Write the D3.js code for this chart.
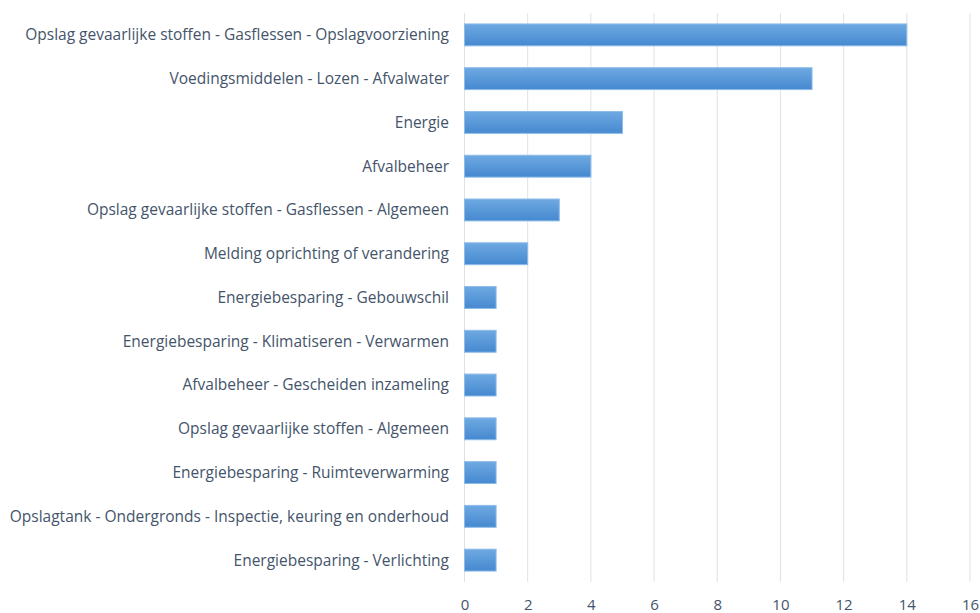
<!DOCTYPE html>
<html>
<head>
<meta charset="utf-8">
<style>
  body { margin: 0; background: #fff; }
  text { font-family: "Open Sans", "Liberation Sans", sans-serif; fill: #44546a; }
</style>
</head>
<body>
<svg width="980" height="613"></svg>
<script src="https://d3js.org/d3.v7.min.js"></script>
<script>
var categories = [
  "Opslag gevaarlijke stoffen - Gasflessen - Opslagvoorziening",
  "Voedingsmiddelen - Lozen - Afvalwater",
  "Energie",
  "Afvalbeheer",
  "Opslag gevaarlijke stoffen - Gasflessen - Algemeen",
  "Melding oprichting of verandering",
  "Energiebesparing - Gebouwschil",
  "Energiebesparing - Klimatiseren - Verwarmen",
  "Afvalbeheer - Gescheiden inzameling",
  "Opslag gevaarlijke stoffen - Algemeen",
  "Energiebesparing - Ruimteverwarming",
  "Opslagtank - Ondergronds - Inspectie, keuring en onderhoud",
  "Energiebesparing - Verlichting"
];
var values = [14, 11, 5, 4, 3, 2, 1, 1, 1, 1, 1, 1, 1];
var tickValues = [0, 2, 4, 6, 8, 10, 12, 14, 16];

var svg = d3.select("svg");

var x = d3.scaleLinear().domain([0, 16]).range([464.5, 970]);
var y = d3.scaleBand().domain(categories).range([13, 582]).paddingInner(0.5).paddingOuter(0.25);

var defs = svg.append("defs");
var grad = defs.append("linearGradient")
    .attr("id", "barGrad")
    .attr("x1", 0).attr("y1", 0).attr("x2", 0).attr("y2", 1);
grad.append("stop").attr("offset", "0%").attr("stop-color", "#6ea9e2");
grad.append("stop").attr("offset", "100%").attr("stop-color", "#4689d0");

// gridlines
svg.append("g")
  .selectAll("line")
  .data(tickValues)
  .enter().append("line")
    .attr("x1", function(d) { return x(d); })
    .attr("x2", function(d) { return x(d); })
    .attr("y1", 13)
    .attr("y2", 582)
    .attr("stroke", "#dde2ea")
    .attr("stroke-width", 1);

// bars
svg.append("g")
  .selectAll("rect")
  .data(values)
  .enter().append("rect")
    .attr("x", x(0))
    .attr("y", function(d, i) { return y(categories[i]); })
    .attr("width", function(d) { return x(d) - x(0); })
    .attr("height", y.bandwidth())
    .attr("fill", "url(#barGrad)")
    .attr("stroke", "#8dbbe8")
    .attr("stroke-width", 1);

// category labels
svg.append("g")
  .selectAll("text")
  .data(categories)
  .enter().append("text")
    .attr("x", 449)
    .attr("y", function(d) { return y(d) + y.bandwidth() / 2; })
    .attr("dy", "0.35em")
    .attr("text-anchor", "end")
    .attr("font-size", 15.5)
    .text(function(d) { return d; });

// x axis labels
var xAxis = svg.append("g")
    .attr("transform", "translate(0,595)")
    .call(d3.axisBottom(x).tickValues(tickValues).tickSize(0).tickPadding(4));
xAxis.select(".domain").remove();
xAxis.selectAll("text")
    .attr("font-size", 15)
    .attr("font-family", "\"Open Sans\", sans-serif")
    .attr("fill", "#44546a");
</script>
</body>
</html>
